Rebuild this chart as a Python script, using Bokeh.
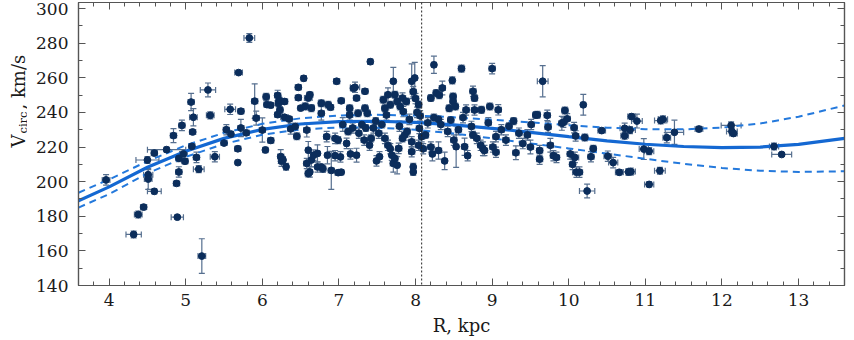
import math
import pandas as pd
from bokeh.plotting import figure
from bokeh.layouts import row
from bokeh.models import (ColumnDataSource, Whisker, TeeHead, Span, Label,
                          LinearAxis, Range1d, SingleIntervalTicker)
from bokeh.embed import file_html
from bokeh.resources import INLINE

# ---------------- data ----------------
R = [3.96, 4.32, 4.38, 4.45, 4.50, 4.51, 4.51, 4.59, 4.59, 4.75, 4.84, 4.88, 4.89, 4.91, 4.91,
     4.95, 4.97, 4.99, 5.07, 5.09, 5.10, 5.08, 5.14, 5.17, 5.29, 5.32, 5.38, 5.21, 5.50, 5.53,
     5.58, 5.59, 5.69, 5.68, 5.68, 5.72, 5.72, 5.79, 5.83, 5.90, 5.92, 6.00, 6.04, 6.05, 6.06,
     6.11, 6.11, 6.20, 6.21, 6.20, 6.23, 6.22, 6.24, 6.25, 6.27, 6.29, 6.29, 6.31, 6.35, 6.37,
     6.43, 6.45, 6.47, 6.47, 6.50, 6.54, 6.56, 6.58, 6.58, 6.60, 6.62, 6.60, 6.62, 6.60, 6.64,
     6.64, 6.67, 6.72, 6.72, 6.77, 6.77, 6.77, 6.79, 6.84, 6.85, 6.86, 6.89, 6.90, 6.95, 6.95,
     6.97, 6.99, 6.99, 7.03, 7.02, 7.03, 7.05, 7.10, 7.14, 7.14, 7.15, 7.12, 7.19, 7.21, 7.18,
     7.23, 7.23, 7.25, 7.26, 7.30, 7.33, 7.34, 7.34, 7.37, 7.35, 7.40, 7.41, 7.42, 7.45, 7.48,
     7.49, 7.52, 7.53, 7.56, 7.58, 7.60, 7.60, 7.62, 7.64, 7.64, 7.67, 7.67, 7.69, 7.71, 7.71,
     7.73, 7.73, 7.76, 7.76, 7.78, 7.79, 7.80, 7.83, 7.83, 7.84, 7.86, 7.88, 7.89, 7.92, 7.95,
     7.95, 7.95, 7.97, 7.97, 7.97, 7.99, 8.00, 8.02, 8.04, 8.04, 8.05, 8.06, 8.08, 8.10, 8.13,
     8.16, 8.20, 8.20, 8.22, 8.24, 8.24, 8.27, 8.30, 8.30, 8.31, 8.33, 8.35, 8.38, 8.42, 8.44,
     8.46, 8.48, 8.49, 8.49, 8.50, 8.52, 8.53, 8.56, 8.60, 8.62, 8.64, 8.66, 8.68, 8.73, 8.75,
     8.75, 8.77, 8.77, 8.80, 8.85, 8.86, 8.88, 8.90, 8.95, 8.97, 9.00, 9.01, 9.05, 9.05, 9.08,
     9.12, 9.18, 9.22, 9.28, 9.31, 9.35, 9.40, 9.46, 9.50, 9.51, 9.57, 9.59, 9.62, 9.62, 9.66,
     9.72, 9.73, 9.76, 9.80, 9.84, 9.91, 9.93, 9.95, 9.98, 10.02, 10.05, 10.08, 10.07, 10.09,
     10.10, 10.14, 10.19, 10.21, 10.24, 10.29, 10.32, 10.43, 10.51, 10.58, 10.66, 10.73, 10.73,
     10.78, 10.81, 10.80, 10.82, 10.89, 10.98, 11.05, 11.05, 11.19, 11.20, 11.23, 11.28, 11.38,
     11.70, 12.12, 12.13, 12.15, 12.68, 12.78]
V = [201.0, 169.5, 181.0, 185.3, 212.5, 204.0, 201.5, 194.4, 216.5, 218.5, 226.6, 199.0, 179.5, 205.6, 213.5,
     232.5, 216.0, 211.8, 246.0, 228.7, 237.2, 220.4, 214.0, 207.2, 253.0, 238.3, 214.4, 157.0, 222.3, 230.0,
     241.8, 227.5, 263.0, 219.0, 211.0, 240.7, 231.0, 228.2, 283.0, 246.5, 236.7, 229.8, 218.3, 249.0, 244.5,
     244.2, 223.8, 249.8, 245.3, 238.7, 241.4, 247.0, 214.5, 211.8, 212.5, 246.3, 237.2, 208.6, 236.2, 230.5,
     231.8, 226.2, 254.5, 248.5, 242.5, 259.7, 243.5, 229.8, 210.5, 248.3, 250.2, 218.2, 205.6, 204.7, 242.5,
     212.5, 215.3, 216.3, 208.5, 245.3, 239.5, 208.5, 207.4, 226.0, 215.3, 244.4, 243.0, 206.5, 225.0, 215.0,
     258.0, 224.0, 205.2, 205.5, 214.3, 246.7, 233.0, 222.1, 242.4, 238.5, 216.0, 229.0, 254.0, 254.5, 231.0,
     248.3, 215.3, 239.5, 228.0, 233.0, 224.0, 252.2, 242.4, 239.5, 231.0, 221.1, 269.3, 225.0, 231.0, 235.0,
     212.0, 228.0, 214.4, 233.0, 247.3, 242.4, 225.0, 238.5, 250.2, 221.0, 244.4, 219.0, 215.3, 258.0, 210.5,
     250.2, 213.4, 246.3, 209.5, 219.2, 232.0, 243.4, 248.3, 225.0, 240.5, 227.0, 246.3, 229.0, 236.0, 258.0,
     223.0, 217.3, 252.0, 208.5, 205.6, 259.9, 248.0, 240.0, 244.5, 221.0, 230.8, 238.0, 226.0, 219.0, 227.0,
     234.0, 248.3, 220.0, 216.0, 267.5, 237.0, 251.2, 236.0, 218.0, 250.0, 233.0, 254.1, 212.0, 229.0, 242.4,
     235.6, 258.5, 249.2, 246.3, 224.0, 243.4, 220.2, 230.0, 265.3, 237.0, 220.2, 241.4, 215.0, 231.9, 252.2,
     227.0, 248.3, 241.4, 225.0, 221.0, 241.5, 219.0, 218.0, 234.0, 243.4, 265.3, 220.0, 226.0, 217.0, 241.5,
     230.0, 224.0, 232.0, 235.0, 216.7, 228.0, 222.0, 227.0, 220.0, 233.0, 238.5, 238.6, 218.0, 213.0, 258.0,
     238.3, 231.5, 221.0, 215.0, 214.0, 233.7, 234.3, 241.1, 236.3, 216.0, 210.0, 214.0, 231.2, 226.4,
     205.5, 205.5, 244.4, 225.5, 194.6, 214.4, 219.0, 229.5, 214.7, 211.0, 205.4, 230.8, 226.5,
     205.6, 205.8, 229.8, 237.6, 235.0, 218.8, 217.6, 198.4, 206.3, 235.3, 236.0, 225.4, 228.5,
     230.4, 232.5, 229.0, 227.8, 220.3, 215.7]
R_ERR = [0.05, 0.10, 0.05, 0.04, 0.15, 0.06, 0.05, 0.09, 0.04, 0.25, 0.04, 0.04, 0.08, 0.04, 0.04,
         0.04, 0.05, 0.04, 0.04, 0.04, 0.05, 0.04, 0.04, 0.07, 0.10, 0.05, 0.06, 0.05, 0.04, 0.04,
         0.07, 0.03, 0.05, 0.04, 0.03, 0.04, 0.04, 0.04, 0.07, 0.04, 0.04, 0.04, 0.03, 0.04, 0.04,
         0.03, 0.04, 0.04, 0.04, 0.04, 0.04, 0.04, 0.04, 0.03, 0.03, 0.04, 0.05, 0.03, 0.04, 0.04,
         0.03, 0.04, 0.04, 0.04, 0.03, 0.03, 0.04, 0.04, 0.04, 0.05, 0.04, 0.03, 0.03, 0.04, 0.04,
         0.03, 0.03, 0.03, 0.03, 0.04, 0.04, 0.03, 0.04, 0.04, 0.03, 0.04, 0.04, 0.04, 0.04, 0.03,
         0.04, 0.03, 0.04, 0.03, 0.03, 0.04, 0.04, 0.03, 0.04, 0.04, 0.03, 0.04, 0.04, 0.06, 0.04,
         0.04, 0.03, 0.04, 0.03, 0.04, 0.04, 0.04, 0.04, 0.04, 0.03, 0.03, 0.03, 0.04, 0.04, 0.03,
         0.03, 0.04, 0.03, 0.04, 0.04, 0.04, 0.04, 0.04, 0.04, 0.04, 0.04, 0.03, 0.03, 0.03, 0.04,
         0.04, 0.04, 0.04, 0.03, 0.04, 0.04, 0.04, 0.04, 0.04, 0.04, 0.04, 0.04, 0.04, 0.04, 0.03,
         0.04, 0.04, 0.04, 0.03, 0.03, 0.03, 0.04, 0.04, 0.04, 0.04, 0.04, 0.04, 0.04, 0.04, 0.04,
         0.04, 0.04, 0.04, 0.03, 0.03, 0.04, 0.04, 0.04, 0.04, 0.04, 0.04, 0.04, 0.03, 0.04, 0.04,
         0.04, 0.03, 0.04, 0.04, 0.04, 0.04, 0.03, 0.04, 0.04, 0.04, 0.04, 0.04, 0.03, 0.04, 0.04,
         0.04, 0.04, 0.04, 0.04, 0.04, 0.04, 0.03, 0.04, 0.04, 0.04, 0.04, 0.04, 0.04, 0.04, 0.04,
         0.04, 0.04, 0.04, 0.04, 0.04, 0.04, 0.04, 0.04, 0.04, 0.04, 0.04, 0.04, 0.04, 0.04, 0.07,
         0.04, 0.04, 0.04, 0.04, 0.04, 0.04, 0.04, 0.04, 0.04, 0.04, 0.04, 0.05, 0.04, 0.04,
         0.05, 0.04, 0.03, 0.04, 0.10, 0.04, 0.04, 0.05, 0.05, 0.06, 0.05, 0.06, 0.05,
         0.07, 0.06, 0.07, 0.05, 0.07, 0.06, 0.06, 0.06, 0.07, 0.08, 0.06, 0.05, 0.12,
         0.05, 0.13, 0.07, 0.05, 0.06, 0.13]
V_ERR = [3, 2, 2, 1.5, 2, 3, 6, 1.5, 1.5, 1.5, 4, 1, 1, 3, 2,
         3, 1.5, 1.5, 5, 1, 5, 1.5, 3, 2, 4, 2, 3, 10, 1, 3,
         3, 1.5, 1, 1.5, 1, 1.5, 5, 1.5, 2.5, 10, 4, 7, 1.5, 2, 1.5,
         1.5, 1.5, 3, 2, 1.5, 2, 2, 4, 3, 2, 1.5, 1.5, 2, 1.5, 3,
         2, 2, 1.5, 1.5, 1.5, 1.5, 2, 4, 3, 1.5, 1.5, 5, 3, 2, 2,
         4, 3, 5, 3, 2, 4, 1.5, 2, 3, 5, 2, 1.5, 11, 3, 3,
         1.5, 2, 1.5, 1.5, 3, 1.5, 4, 3, 2, 3, 3, 2, 1.5, 3, 3,
         1.5, 4, 2, 3, 2, 3, 1.5, 2, 2, 2, 3, 1.5, 2, 3, 2,
         3, 3, 3, 2, 2, 2, 3, 3, 4, 3, 2, 3, 3, 8, 5,
         2, 3, 2, 5, 3, 3, 2, 3, 2, 3, 3, 2, 2, 3, 10,
         3, 3, 3, 2, 2, 9, 3, 3, 2, 3, 3, 3, 3, 3, 2,
         3, 2, 3, 4, 5, 2, 2, 2, 5, 2, 3, 4, 5, 3, 2,
         2, 2, 2, 3, 3, 2, 12, 3, 2, 3, 5, 3, 3, 3, 3,
         2, 2, 3, 3, 3, 2, 4, 3, 3, 2, 3, 3, 3, 3, 3,
         3, 3, 2, 2, 4, 3, 3, 3, 4, 3, 2, 2, 3, 3, 9,
         3, 3, 4, 3, 3, 4, 3, 2, 3, 3, 3, 3, 3, 3,
         3, 3, 6, 2, 4, 3, 2, 1.5, 3, 3, 1.5, 3, 2,
         2, 2, 2, 1.5, 4, 6, 2, 1.5, 2, 2, 2, 3, 7,
         1.5, 2, 2, 1.5, 2, 1]

# rotation-curve model and its confidence band
CURVE_R = [3.6, 4.0, 4.5, 5.0, 5.5, 6.0, 6.5, 7.0, 7.5, 8.0, 8.5, 9.0, 9.5, 10.0,
           10.5, 11.0, 11.5, 12.0, 12.5, 13.0, 13.6]
CURVE_V = [189.0, 197.0, 208.3, 217.6, 225.0, 230.2, 233.3, 234.7, 234.9, 234.2, 232.8,
           230.8, 228.5, 226.0, 223.6, 221.6, 220.3, 219.7, 220.0, 221.5, 225.0]
CURVE_UP = [193.6, 201.3, 211.8, 221.0, 228.2, 233.4, 236.6, 238.2, 238.6, 238.2, 237.2,
            235.8, 234.2, 232.6, 231.2, 230.3, 230.2, 231.2, 233.6, 237.5, 244.0]
CURVE_LO = [185.0, 192.8, 204.8, 214.3, 221.8, 227.1, 230.2, 231.3, 231.2, 230.0, 227.8,
            225.0, 222.1, 219.2, 216.2, 213.2, 210.3, 207.9, 206.3, 205.6, 206.0]

R0 = 8.08
# y-axis title pieces: text, font size, offset along the axis, baseline offset
Y_LABEL = [("V", "18px", 138, 18), ("circ", "11.5px", 152, 22), (", km/s", "18px", 176, 18)]

# ---------------- figure ----------------
FONT = "DejaVu Serif"
TXT = "#1a1a1a"
AX = "#555555"
H = 338
LAB_W = 27

p = figure(width=846 - LAB_W, height=H, output_backend="svg", toolbar_location=None,
           x_range=Range1d(3.6, 13.6), y_range=Range1d(140, 303.5),
           min_border_left=78 - LAB_W, min_border_right=2, min_border_top=2, min_border_bottom=4,
           background_fill_color="white", border_fill_color="white",
           outline_line_color=AX, outline_line_width=1.2)
p.grid.visible = False

def style_axis(ax, labels=True):
    ax.axis_line_color = AX
    ax.axis_line_width = 1.2
    ax.major_tick_line_color = AX
    ax.minor_tick_line_color = AX
    ax.major_tick_in = 7
    ax.major_tick_out = 0
    ax.minor_tick_in = 4
    ax.minor_tick_out = 0
    ax.major_label_text_font = FONT
    ax.major_label_text_color = TXT if labels else None
    ax.major_label_text_font_size = "17px" if labels else "1px"
    ax.major_label_standoff = 8 if labels else 0

style_axis(p.xaxis[0])
style_axis(p.yaxis[0])
p.xaxis[0].ticker = SingleIntervalTicker(interval=1, num_minor_ticks=5)
p.yaxis[0].ticker = SingleIntervalTicker(interval=20, num_minor_ticks=2)
p.yaxis[0].major_label_standoff = 10
p.xaxis[0].major_label_standoff = 8
p.xaxis[0].axis_label = "R, kpc"
p.xaxis[0].axis_label_text_font = FONT
p.xaxis[0].axis_label_text_font_size = "18px"
p.xaxis[0].axis_label_text_font_style = "normal"
p.xaxis[0].axis_label_text_color = TXT
p.xaxis[0].axis_label_standoff = 6

top = LinearAxis(ticker=SingleIntervalTicker(interval=1, num_minor_ticks=5))
right = LinearAxis(ticker=SingleIntervalTicker(interval=20, num_minor_ticks=2))
style_axis(top, labels=False)
style_axis(right, labels=False)
p.add_layout(top, "above")
p.add_layout(right, "right")

# model curves
p.line(CURVE_R, CURVE_UP, line_color="#2479dc", line_width=2, line_dash="7 5")
p.line(CURVE_R, CURVE_LO, line_color="#2479dc", line_width=2, line_dash="7 5")
p.line(CURVE_R, CURVE_V, line_color="#1468d2", line_width=3.2)

# data with error bars
df = pd.DataFrame({"r": R, "v": V, "re": R_ERR, "ve": V_ERR})
df["vlo"] = df.v - df.ve
df["vhi"] = df.v + df.ve
df["rlo"] = df.r - df.re
df["rhi"] = df.r + df.re
src = ColumnDataSource(df)

EB = "#566f8f"
wy = Whisker(source=src, base="r", lower="vlo", upper="vhi", dimension="height",
             line_color=EB, line_width=1.2,
             upper_head=TeeHead(size=6, line_color=EB, line_width=1.2),
             lower_head=TeeHead(size=6, line_color=EB, line_width=1.2))
wx = Whisker(source=src, base="v", lower="rlo", upper="rhi", dimension="width",
             line_color=EB, line_width=1.2,
             upper_head=TeeHead(size=6, line_color=EB, line_width=1.2),
             lower_head=TeeHead(size=6, line_color=EB, line_width=1.2))
p.add_layout(wy)
p.add_layout(wx)
p.scatter("r", "v", source=src, size=6.8, fill_color="#0b2d5b", line_color="#0b2d5b")

# solar radius marker
p.add_layout(Span(location=R0, dimension="height", line_color="#222222",
                  line_width=1, line_dash="2 2"))

# narrow strip holding the rotated y-axis title with its subscript
lab = figure(width=LAB_W, height=H, output_backend="svg", toolbar_location=None,
             x_range=Range1d(0, 1), y_range=Range1d(0, 1),
             x_axis_location=None, y_axis_location=None,
             min_border=0, outline_line_color=None,
             background_fill_color="white", border_fill_color="white")
lab.grid.visible = False
for txt, size, sy, sx in Y_LABEL:
    lab.add_layout(Label(x=sx, y=sy, x_units="screen", y_units="screen", text=txt,
                         angle=math.pi / 2, text_font=FONT, text_font_size=size,
                         text_color=TXT, text_baseline="alphabetic", text_align="left"))

layout = row(lab, p, spacing=0)
open("out.html", "w").write(file_html(layout, INLINE))
